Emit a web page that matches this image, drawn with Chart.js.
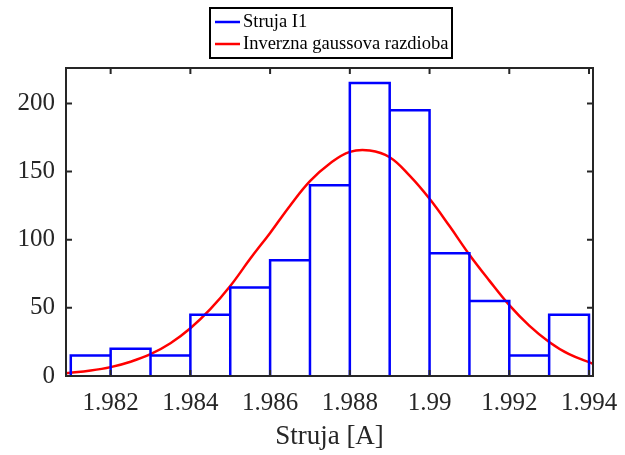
<!DOCTYPE html>
<html>
<head>
<meta charset="utf-8">
<script src="https://cdn.jsdelivr.net/npm/chart.js@4/dist/chart.umd.min.js"></script>
<style>
  html, body { margin: 0; padding: 0; background: #fff; }
  #wrap { width: 625px; height: 455px; }
</style>
</head>
<body>
<div id="wrap"><canvas id="histChart" width="625" height="455"></canvas></div>
<script>
// ====== Data ======
const BIN_EDGES = [1.981, 1.982, 1.983, 1.984, 1.985, 1.986, 1.987, 1.988, 1.989, 1.990, 1.991, 1.992, 1.993, 1.994];
const COUNTS = [15, 20, 15, 45, 65, 85, 140, 215, 195, 90, 55, 15, 45];
const FIT_X = [1.98088, 1.9815, 1.982, 1.9825, 1.983, 1.9835, 1.984, 1.9845, 1.985, 1.9855, 1.986, 1.9865, 1.987, 1.9875, 1.988, 1.9885, 1.989, 1.9895, 1.990, 1.9905, 1.991, 1.9915, 1.992, 1.9925, 1.993, 1.9935, 1.9941];
const FIT_Y = [2, 4, 6.5, 10.5, 16, 24, 35, 49, 66, 86, 105, 125, 143, 156, 164.5, 165.5, 160.5, 147, 130, 110, 89, 70, 52, 37, 25, 16, 9];
const X_TICKS = [1.982, 1.984, 1.986, 1.988, 1.990, 1.992, 1.994];
const Y_TICKS = [0, 50, 100, 150, 200];
const LABELS = ["Struja I1", "Inverzna gaussova razdioba"];

const FONT = "'Liberation Serif', 'Times New Roman', serif";
const AXIS_COLOR = "#262626";

// histogram outline traced from bin edges and counts
function histOutline() {
  const pts = [];
  COUNTS.forEach((c, i) => {
    pts.push({ x: BIN_EDGES[i], y: 0 });
    pts.push({ x: BIN_EDGES[i], y: c });
    pts.push({ x: BIN_EDGES[i + 1], y: c });
    pts.push({ x: BIN_EDGES[i + 1], y: 0 });
  });
  return pts;
}

// ====== Frame, inner ticks and boxed legend ======
const framePlugin = {
  id: "frame",
  afterDatasetsDraw(chart) {
    const { ctx, chartArea: a, scales } = chart;
    const len = 6;
    ctx.save();
    ctx.strokeStyle = AXIS_COLOR;
    ctx.lineWidth = 2;
    ctx.beginPath();
    X_TICKS.forEach(v => {
      const px = scales.x.getPixelForValue(v);
      ctx.moveTo(px, a.bottom); ctx.lineTo(px, a.bottom - len);
      ctx.moveTo(px, a.top); ctx.lineTo(px, a.top + len);
    });
    Y_TICKS.forEach(v => {
      const py = scales.y.getPixelForValue(v);
      ctx.moveTo(a.left, py); ctx.lineTo(a.left + len, py);
      ctx.moveTo(a.right, py); ctx.lineTo(a.right - len, py);
    });
    ctx.stroke();
    ctx.strokeRect(a.left, a.top, a.right - a.left, a.bottom - a.top);

    // legend
    const box = { x: 210, y: 8, w: 242, h: 50 };
    ctx.fillStyle = "#fff";
    ctx.fillRect(box.x, box.y, box.w, box.h);
    ctx.strokeStyle = "#000";
    ctx.lineWidth = 2;
    ctx.strokeRect(box.x, box.y, box.w, box.h);
    ctx.font = "18.5px " + FONT;
    ctx.textBaseline = "middle";
    chart.data.datasets.forEach((ds, i) => {
      const cy = box.y + 14 + i * 22;
      ctx.strokeStyle = ds.borderColor;
      ctx.lineWidth = 2.5;
      ctx.beginPath();
      ctx.moveTo(box.x + 5, cy); ctx.lineTo(box.x + 30, cy);
      ctx.stroke();
      ctx.fillStyle = "#000";
      ctx.fillText(ds.label, box.x + 33, cy);
    });
    ctx.restore();
  }
};

// ====== Chart ======
const ctx = document.getElementById("histChart").getContext("2d");
const chart = new Chart(ctx, {
  type: "line",
  data: {
    datasets: [{
      label: LABELS[0],
      data: histOutline(),
      borderColor: "#0000ff",
      borderWidth: 2.5,
      pointRadius: 0,
      tension: 0,
      fill: false
    }, {
      label: LABELS[1],
      data: FIT_X.map((x, i) => ({ x: x, y: FIT_Y[i] })),
      borderColor: "#ff0000",
      borderWidth: 2.5,
      pointRadius: 0,
      tension: 0.4,
      fill: false
    }]
  },
  options: {
    responsive: false,
    animation: false,
    layout: { padding: { top: 68, right: 32, left: 0, bottom: 0 } },
    plugins: { legend: { display: false }, tooltip: { enabled: false } },
    scales: {
      x: {
        type: "linear",
        min: 1.98088,
        max: 1.9941,
        grid: { display: false, drawTicks: false },
        border: { display: false },
        afterBuildTicks: s => { s.ticks = X_TICKS.map(v => ({ value: v })); },
        afterFit: s => { s.height = 79; s.paddingLeft = 0; s.paddingRight = 0; },
        ticks: {
          padding: 12,
          color: AXIS_COLOR,
          font: { family: FONT, size: 25 },
          callback: v => String(Number(v.toFixed(3)))
        },
        title: {
          display: true,
          text: "Struja [A]",
          color: AXIS_COLOR,
          font: { family: FONT, size: 27 },
          padding: { top: 0, bottom: 2 }
        }
      },
      y: {
        min: 0,
        max: 226,
        grid: { display: false, drawTicks: false },
        border: { display: false },
        afterBuildTicks: s => { s.ticks = Y_TICKS.map(v => ({ value: v })); },
        afterFit: s => { s.width = 66; s.paddingTop = 0; s.paddingBottom = 0; },
        ticks: {
          padding: 11,
          color: AXIS_COLOR,
          font: { family: FONT, size: 25 }
        }
      }
    }
  },
  plugins: [framePlugin]
});
</script>
</body>
</html>
